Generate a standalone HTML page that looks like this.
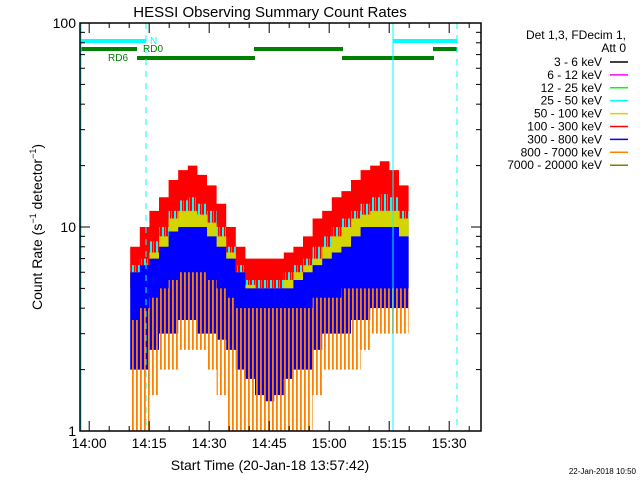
<!DOCTYPE html>
<html><head><meta charset="utf-8"><style>
body{margin:0;background:#fff;width:640px;height:480px;overflow:hidden}
svg{display:block}
text{font-family:"Liberation Sans",sans-serif}
</style></head><body>
<svg id="chart" width="640" height="480" xmlns="http://www.w3.org/2000/svg">
<defs>
<pattern id="orangeStripe" width="4" height="10" patternUnits="userSpaceOnUse"><rect x="0" y="0" width="1.8" height="10" fill="#ff8000"/></pattern>
<pattern id="cyanStripe" width="6" height="10" patternUnits="userSpaceOnUse"><rect x="0" y="0" width="2" height="10" fill="#00ffff"/><rect x="3" y="0" width="1" height="10" fill="#00ff00"/></pattern>
</defs>
<g id="marks"></g>
<g id="axes"></g>
<text x="270" y="17" font-size="15" text-anchor="middle">HESSI Observing Summary Count Rates</text>
<text x="270" y="470" font-size="14" text-anchor="middle">Start Time (20-Jan-18 13:57:42)</text>
<text transform="translate(42,227) rotate(-90)" font-size="14" text-anchor="middle">Count Rate (s<tspan font-size="9" dy="-6">−1</tspan><tspan dy="6"> detector</tspan><tspan font-size="9" dy="-6">−1</tspan><tspan dy="6">)</tspan></text>
<text x="636" y="474" font-size="8" text-anchor="end">22-Jan-2018 10:50</text>
<g id="legend"></g>
</svg>
<script>
// Data (time in minutes after 13:57:42)
const binTimes = [13.75,16.15,18.55,20.95,23.35,25.75,28.15,30.55,32.95,35.35,37.75,40.15,42.55,44.95,47.35,49.75,52.15,54.55,56.95,59.35,61.75,64.15,66.55,68.95,71.35,73.75,76.15,78.55,80.95];
const redHi   = [8,10,12,14,17,19,20,18,16,13,10,8,7,7,7,7,7.5,8,9,11,12,14,15,17,19,20,21,19,16];
const redLo   = [5,5,5,5,5,5,5,5,5,5,5,5,5,5,5,5,5,5,5,5,5,5,5,5,5,5,5,5,5];
const cyanHi  = [6.5,7,8.5,10,12,13.5,14,13,12,10,8,6.5,5.5,5.5,5.5,5.5,6,6.5,7,8,9,10,11,12,13,14,14.5,14,12];
const yellowHi= [6,6.5,7.5,9,11,12,12,11.5,10.5,9,7.5,6,5.2,5,5,5,5.5,6,6.5,7,8,9,10,11,11.5,12,12,12,11];
const blueHi  = [6,6.5,7,8,9.5,10,10,10,9,8,7,6,5,5,5,5,5,5.5,6,6.5,7,7.5,8,9,10,10,10,10,9];
const blueLo  = [2,2,2.5,3,3,3.5,3.5,3,3,2.8,2.5,2,1.8,1.5,1.4,1.5,1.8,2,2,2.5,3,3,3,3.5,3.5,4,4,4,4];
const orangeHi= [3.5,4,4.5,5,5.5,6,6,6,5.5,5,4.5,4,4,4,4,4,4,4,4,4.5,4.5,4.5,5,5,5,5,5,5,5];
const orangeLo= [1,1,1.5,2,2,2.5,2.5,2.5,2,1.5,1,1,1,1,1,1,1,1,1,1.5,2,2,2,2,2.5,3,3,3,3];
const xTickLabels = ["14:00","14:15","14:30","14:45","15:00","15:15","15:30"];
const xTickMinutes = [2.3,17.3,32.3,47.3,62.3,77.3,92.3];
const yTickValues = [1,10,100];
const legendLabels = ["3 - 6 keV","6 - 12 keV","12 - 25 keV","25 - 50 keV","50 - 100 keV","100 - 300 keV","300 - 800 keV","800 - 7000 keV","7000 - 20000 keV"];
const legendColors = ["#000000","#ff00ff","#00ff00","#00ffff","#d4d400","#ff0000","#0000ff","#ff8000","#808000"];

const X0=80,X1=481,Y0=23,Y1=431;
const tMax=100.25;
function xs(t){return X0+(X1-X0)*t/tMax;}
function ys(v){return Y1-(Y1-Y0)*Math.log10(v)/2;}
const NS="http://www.w3.org/2000/svg";
function mk(tag,attrs,parent){const e=document.createElementNS(NS,tag);for(const k in attrs)e.setAttribute(k,attrs[k]);parent.appendChild(e);return e;}
const marks=document.getElementById('marks');
const axes=document.getElementById('axes');
const half=1.2;
function band(hi,lo,fill,name){
  let top="",bot=[];
  for(let i=0;i<binTimes.length;i++){
    const a=xs(binTimes[i]-half),b=xs(binTimes[i]+half);
    top+=(i?"L":"M")+a+","+ys(hi[i])+"L"+b+","+ys(hi[i]);
    bot.unshift("L"+b+","+ys(lo[i])+"L"+a+","+ys(lo[i]));
  }
  const p=mk('path',{d:top+bot.join("")+"Z",fill:fill},marks);
  
  
}
const fiveArr=binTimes.map(()=>5);
band(redHi,redLo,"#ff0000","series-100-300kev");
band(cyanHi,fiveArr,"url(#cyanStripe)","series-25-50kev");
band(yellowHi,fiveArr,"#d4d400","series-50-100kev");
band(blueHi,blueLo,"#0000ff","series-300-800kev");
band(orangeHi,orangeLo,"url(#orangeStripe)","series-800-7000kev");

function seg(x1,x2,y,c,w,name){const l=mk('line',{x1:x1,x2:x2,y1:y,y2:y,stroke:c,'stroke-width':w},axes);}
seg(80,146,41,"#00ffff",4,"night-bar");seg(393,457,41,"#00ffff",4,"night-bar");
seg(80,137,49,"#008000",4,"rd0-bar");seg(254,343,49,"#008000",4,"rd0-bar");seg(433,457,49,"#008000",4,"rd0-bar");
seg(137,255,58,"#008000",4,"rd6-bar");seg(342,434,58,"#008000",4,"rd6-bar");
function vline(x,c,dash,name){const l=mk('line',{x1:x,x2:x,y1:Y0,y2:Y1,stroke:c,'stroke-width':1},axes);if(dash)l.setAttribute('stroke-dasharray',dash);}
vline(81,"#00ffff",null,"night-start");vline(393,"#00ffff",null,"night-start-2");
vline(146,"#00ffff","6,6","night-end");vline(457,"#00ffff","6,6","night-end-2");
[["N",150,44,"#00ffff"],["RD0",143,52,"#008000"],["RD6",108,61,"#008000"]].forEach(d=>{const t=mk('text',{x:d[1],y:d[2],'font-size':10,fill:d[3]},axes);t.textContent=d[0];});

mk('rect',{x:X0,y:Y0,width:X1-X0,height:Y1-Y0,fill:'none',stroke:'#000','stroke-width':1.5},axes);
for(let k=0;k<20;k++){const t=2.3+5*k;const x=xs(t);if(x>X1)break;const L=(k%3===0)?10:5;
  mk('line',{x1:x,x2:x,y1:Y1,y2:Y1-L,stroke:'#000'},axes);mk('line',{x1:x,x2:x,y1:Y0,y2:Y0+L,stroke:'#000'},axes);}
xTickLabels.forEach((s,i)=>{const t=mk('text',{x:xs(xTickMinutes[i]),y:448,'font-size':14,'text-anchor':'middle'},axes);t.textContent=s;});
for(let d=0;d<2;d++)for(let m=1;m<=9;m++){const v=m*Math.pow(10,d);const y=ys(v);const L=m===1?10:5;
  mk('line',{x1:X0,x2:X0+L,y1:y,y2:y,stroke:'#000'},axes);mk('line',{x1:X1,x2:X1-L,y1:y,y2:y,stroke:'#000'},axes);}
yTickValues.forEach(v=>{const t=mk('text',{x:76,y:ys(v)+5,'font-size':14,'text-anchor':'end'},axes);t.textContent=String(v);});

const lg=document.getElementById('legend');
[["Det 1,3, FDecim 1,",626,39],["Att 0",626,52]].forEach(d=>{const t=mk('text',{x:d[1],y:d[2],'font-size':12,'text-anchor':'end'},lg);t.textContent=d[0];});
legendLabels.forEach((s,i)=>{const y=62+12.9*i;
  const t=mk('text',{x:602,y:y+4,'font-size':12,'text-anchor':'end'},lg);t.textContent=s;
  
  const l=mk('line',{x1:610,x2:628,y1:y,y2:y,stroke:legendColors[i],'stroke-width':1.5},lg);
  });
</script>
</body></html>
